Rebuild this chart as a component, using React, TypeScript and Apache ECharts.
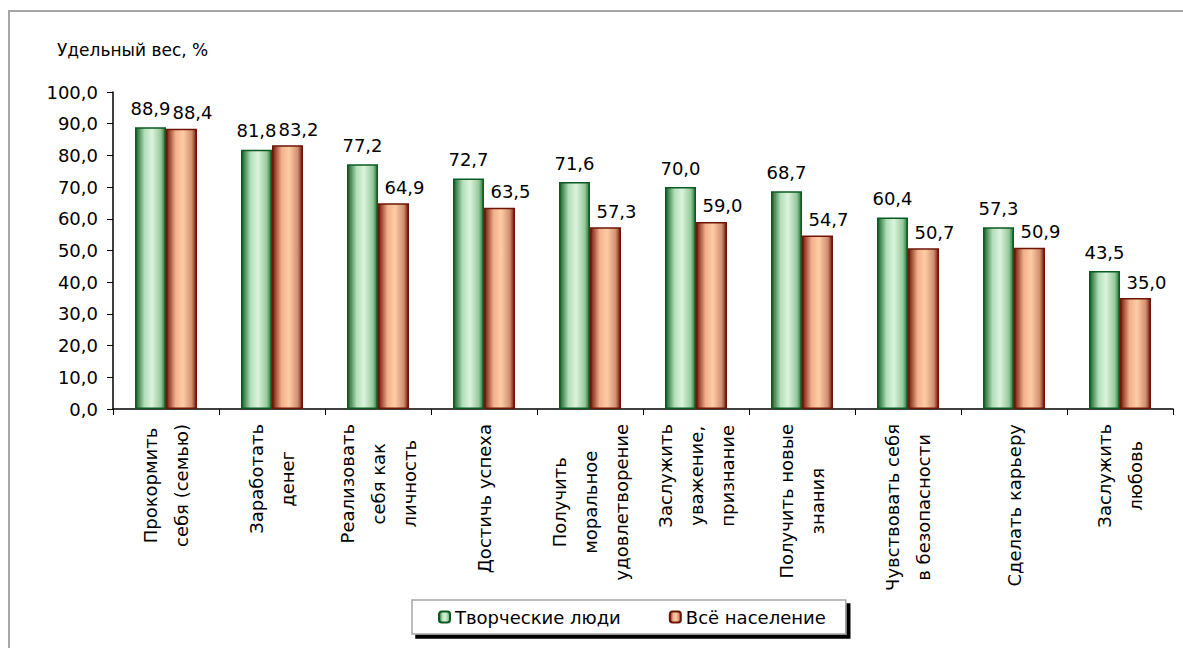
import React, { useEffect, useRef } from "react";
import * as echarts from "echarts";

const categories = [
  "Прокормить\nсебя (семью)",
  "Заработать\nденег",
  "Реализовать\nсебя как\nличность",
  "Достичь успеха",
  "Получить\nморальное\nудовлетворение",
  "Заслужить\nуважение,\nпризнание",
  "Получить новые\nзнания",
  "Чувствовать себя\nв безопасности",
  "Сделать карьеру",
  "Заслужить\nлюбовь",
];
const creativePeople = [88.9, 81.8, 77.2, 72.7, 71.6, 70.0, 68.7, 60.4, 57.3, 43.5];
const wholePopulation = [88.4, 83.2, 64.9, 63.5, 57.3, 59.0, 54.7, 50.7, 50.9, 35.0];
const seriesNames = ["Творческие люди", "Всё население"];
const yAxisTitle = "Удельный вес, %";

const FONT = '"DejaVu Sans", "Liberation Sans", sans-serif';
const fmt = (v: number) => v.toFixed(1).replace(".", ",");

export default function App() {
  const ref = useRef<HTMLDivElement>(null);
  useEffect(() => {
    document.body.style.margin = "0";
    const chart = echarts.init(ref.current!, null, { renderer: "svg" });
    const greenFill = new echarts.graphic.LinearGradient(0, 0, 1, 0, [
      { offset: 0, color: "#15622a" },
      { offset: 0.3, color: "#b3dfb8" },
      { offset: 0.55, color: "#dcf3dc" },
      { offset: 0.85, color: "#96c99c" },
      { offset: 1, color: "#267538" },
    ]);
    const redFill = new echarts.graphic.LinearGradient(0, 0, 1, 0, [
      { offset: 0, color: "#741c0c" },
      { offset: 0.3, color: "#f2b08c" },
      { offset: 0.55, color: "#fdcda5" },
      { offset: 0.85, color: "#d08e70" },
      { offset: 1, color: "#741a0a" },
    ]);
    chart.setOption({
      animation: false,
      backgroundColor: "#fff",
      title: {
        text: yAxisTitle,
        left: 57,
        top: 41,
        padding: 0,
        textStyle: { fontFamily: FONT, fontSize: 17, fontWeight: "normal", color: "#000" },
      },
      graphic: [
        {
          type: "rect",
          shape: { x: 9, y: 11, width: 1200, height: 700 },
          style: { fill: "none", stroke: "#a6a6a6", lineWidth: 2 },
          silent: true,
        },
      ],
      legend: {
        left: 412,
        top: 600,
        padding: [8, 20, 8, 26],
        itemGap: 48,
        itemWidth: 11,
        itemHeight: 11,
        backgroundColor: "#fff",
        borderColor: "#a6a6a6",
        borderWidth: 1.5,
        shadowColor: "#000",
        shadowBlur: 0,
        shadowOffsetX: 4,
        shadowOffsetY: 4,
        textStyle: { fontFamily: FONT, fontSize: 18, color: "#000" },
        data: seriesNames,
      },
      grid: { left: 113, right: 10, top: 92, bottom: 239, containLabel: false },
      xAxis: {
        type: "category",
        data: categories,
        axisLine: { lineStyle: { color: "#000", width: 1.5 } },
        axisTick: { show: true, length: 6, lineStyle: { color: "#000" } },
        axisLabel: {
          rotate: 90,
          interval: 0,
          margin: 15,
          formatter: (v: string) => v.split("\n").map((l) => `{c|${l}}`).join("\n"),
          rich: {
            c: { align: "center", fontFamily: FONT, fontSize: 18, lineHeight: 31, color: "#000" },
          },
        },
      },
      yAxis: {
        type: "value",
        min: 0,
        max: 100,
        interval: 10,
        splitLine: { show: false },
        axisLine: { show: true, lineStyle: { color: "#000", width: 1.5 } },
        axisTick: { show: true, length: 6, lineStyle: { color: "#000" } },
        axisLabel: {
          formatter: (v: number) => fmt(v),
          fontFamily: FONT,
          fontSize: 18,
          color: "#000",
          margin: 15,
        },
      },
      series: [
        {
          name: seriesNames[0],
          type: "bar",
          data: creativePeople,
          barWidth: 31,
          barGap: "0%",
          itemStyle: { color: greenFill, borderColor: "#0b5a22", borderWidth: 1.5 },
          label: {
            show: true,
            position: "top",
            distance: 10,
            formatter: (p: any) => fmt(p.value),
            fontFamily: FONT,
            fontSize: 18,
            color: "#000",
          },
        },
        {
          name: seriesNames[1],
          type: "bar",
          data: wholePopulation,
          barWidth: 31,
          itemStyle: { color: redFill, borderColor: "#6e1606", borderWidth: 1.5 },
          label: {
            show: true,
            position: "top",
            distance: 7,
            offset: [11, 0],
            formatter: (p: any) => fmt(p.value),
            fontFamily: FONT,
            fontSize: 18,
            color: "#000",
          },
        },
      ],
    });
    return () => chart.dispose();
  }, []);
  return <div ref={ref} style={{ width: 1183, height: 648 }} />;
}
